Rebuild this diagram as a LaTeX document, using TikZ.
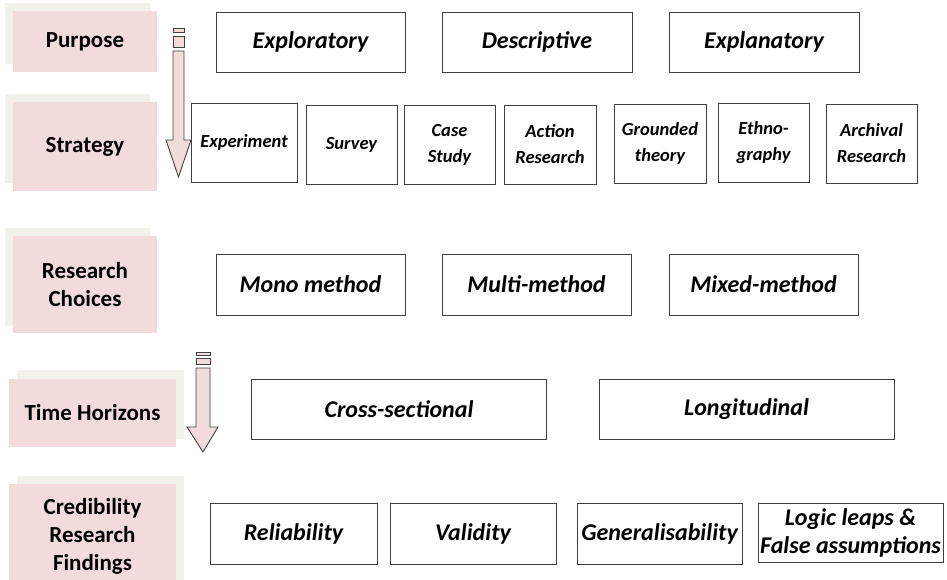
\documentclass[tikz,border=0pt]{standalone}
\usepackage{fontspec}
\setmainfont{Carlito}
\definecolor{labelpink}{HTML}{F2DCDB}
\definecolor{shadowbeige}{HTML}{F3F1EB}
\definecolor{edgegray}{HTML}{404040}
\begin{document}
\begin{tikzpicture}[x=1pt,y=-1pt,
  lbl/.style={fill=labelpink, inner sep=0pt, align=center,
    font=\fontsize{23}{28}\selectfont\bfseries},
  shade/.style={fill=shadowbeige},
  opt/.style={draw=edgegray, line width=1pt, fill=white, inner sep=0pt,
    align=center, font=\fontsize{24}{28}\selectfont\bfseries\itshape},
  optsmall/.style={opt, font=\fontsize{18.5}{26}\selectfont\bfseries\itshape},
  flow/.style={draw=edgegray, line width=0.9pt, fill=labelpink},
]
\useasboundingbox (0,0) rectangle (947,579);

% ---- row labels with their offset backdrops ----
\fill[shade] (5,3) rectangle (150,64);
\node[lbl, minimum width=144pt, minimum height=61pt] (purpose) at (85,41.5) {Purpose};
\fill[shade] (5,94) rectangle (150,183);
\node[lbl, minimum width=144pt, minimum height=89pt] (strategy) at (85,146.5) {Strategy};
\fill[shade] (5,228) rectangle (150,326);
\node[lbl, minimum width=144pt, minimum height=97pt] (choices) at (85,284.5) {Research\\Choices};
\fill[shade] (17,370) rectangle (184,439);
\node[lbl, minimum width=167pt, minimum height=68pt] (horizons) at (92.5,413) {Time Horizons};
\fill[shade] (17,476) rectangle (184,590);
% this panel runs past the lower page edge
\node[lbl, minimum width=167pt, minimum height=104pt] (credibility) at (92.5,536) {Credibility\\Research\\Findings};

% ---- downward flow arrows ----
\draw[flow] (173,28) rectangle (184,32);
\draw[flow] (173,36) rectangle (184,47);
\draw[flow] (173,51) -- (173,140) -- (166,140) -- (178.5,177) -- (191,140)
  -- (184,140) -- (184,51) -- cycle;
\draw[flow] (196,352) rectangle (210,355);
\draw[flow] (196,358) rectangle (210,364);
\draw[flow] (196,368) -- (196,427) -- (187,427) -- (203,452) -- (218,427)
  -- (210,427) -- (210,368) -- cycle;

% ---- purpose ----
\node[opt, minimum width=189pt, minimum height=60pt] (exploratory) at (310.5,42) {Exploratory};
\node[opt, minimum width=190pt, minimum height=60pt] (descriptive) at (537,42) {Descriptive};
\node[opt, minimum width=190pt, minimum height=60pt] (explanatory) at (764,42) {Explanatory};

% ---- strategy ----
\node[optsmall, minimum width=106pt, minimum height=79pt] (experiment) at (244,142.5) {Experiment};
\node[optsmall, minimum width=91pt, minimum height=79pt] (survey) at (351.5,144.5) {Survey};
\node[optsmall, minimum width=91pt, minimum height=79pt] (casestudy) at (449.5,144.5) {Case\\Study};
\node[optsmall, minimum width=92pt, minimum height=79pt] (action) at (550,144.5) {Action\\Research};
\node[optsmall, minimum width=92pt, minimum height=79pt] (grounded) at (660,143.5) {Grounded\\theory};
\node[optsmall, minimum width=91pt, minimum height=79pt] (ethno) at (763.5,142.5) {Ethno-\\graphy};
\node[optsmall, minimum width=91pt, minimum height=79pt] (archival) at (871.5,143.5) {Archival\\Research};

% ---- research choices ----
\node[opt, minimum width=189pt, minimum height=61pt] (mono) at (310.5,284.5) {Mono method};
\node[opt, minimum width=189pt, minimum height=61pt] (multi) at (536.5,284.5) {Multi-method};
\node[opt, minimum width=189pt, minimum height=61pt] (mixed) at (763.5,284.5) {Mixed-method};

% ---- time horizons ----
\node[opt, minimum width=295pt, minimum height=60pt] (cross) at (399,409) {Cross-sectional};
\node[opt, minimum width=295pt, minimum height=60pt] (longitudinal) at (746.5,409) {Longitudinal};

% ---- credibility ----
\node[opt, minimum width=167pt, minimum height=61pt] (reliability) at (293.5,533.5) {Reliability};
\node[opt, minimum width=166pt, minimum height=61pt] (validity) at (473,533.5) {Validity};
\node[opt, minimum width=165pt, minimum height=61pt] (general) at (659.5,533.5) {Generalisability};
\node[opt, minimum width=185pt, minimum height=59pt] (logic) at (850.5,532.5) {Logic leaps \&\\False assumptions};
\end{tikzpicture}
\end{document}
